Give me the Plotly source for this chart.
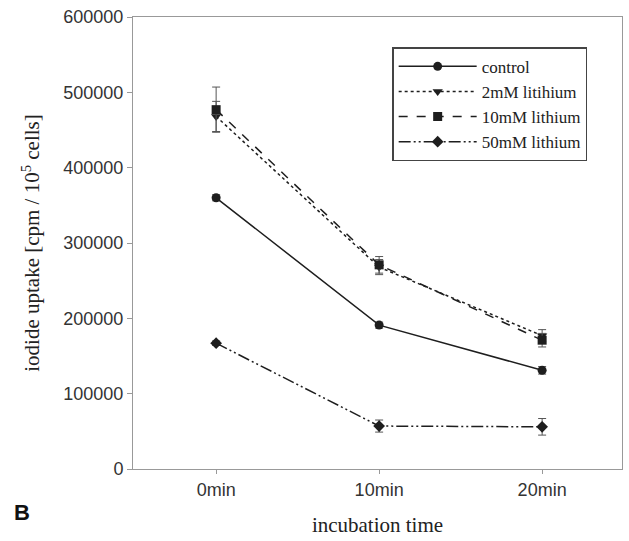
import plotly.graph_objects as go

times = ["0min", "10min", "20min"]
x_idx = [0, 1, 2]

series_names = ["control", "2mM litihium", "10mM lithium", "50mM lithium"]
control = [360000, 191000, 131000]
control_err = [4000, 4000, 5000]
li2 = [468000, 268000, 177000]
li2_err = [20000, 10000, 8000]
li10 = [477000, 271000, 171000]
li10_err = [30000, 11000, 9000]
li50 = [167000, 57000, 56000]
li50_err = [3000, 8000, 11000]

y_ticks = [0, 100000, 200000, 300000, 400000, 500000, 600000]

ink = "#1e1e1e"
styles = [
    (control, control_err, "solid", "circle"),
    (li2, li2_err, "dot", "triangle-down"),
    (li10, li10_err, "dash", "square"),
    (li50, li50_err, "12px,3px,2px,3px,2px,3px", "diamond"),
]

fig = go.Figure()
for name, (vals, errs, dash, sym) in zip(series_names, styles):
    fig.add_trace(go.Scatter(
        x=x_idx, y=vals, name=name, mode="lines+markers",
        line=dict(color=ink, width=1.5, dash=dash),
        marker=dict(symbol=sym, size=9, color=ink),
        error_y=dict(type="data", array=errs, visible=True,
                     color="#555555", thickness=1, width=4),
    ))

fig.update_layout(
    width=629, height=541,
    margin=dict(l=133, r=7, t=17, b=72),
    paper_bgcolor="white", plot_bgcolor="white",
    showlegend=True,
    legend=dict(
        x=0.53, y=0.933, xanchor="left", yanchor="top",
        bordercolor="#444444", borderwidth=1.5, bgcolor="white",
        font=dict(family="Liberation Serif", size=17, color="#222222"),
        itemwidth=78, tracegroupgap=0,
    ),
    annotations=[dict(
        text="<b>B</b>", x=(12 - 133) / 489, y=(469 - 512) / 452,
        xref="paper", yref="paper", xanchor="left", yanchor="middle",
        showarrow=False, font=dict(family="Liberation Sans", size=22, color="#111111"),
    )],
)

fig.update_xaxes(
    range=[-0.51, 2.49], tickvals=x_idx, ticktext=times,
    showline=True, linecolor="#999999", linewidth=1, mirror=True,
    ticks="outside", ticklen=4, tickcolor="#999999",
    showgrid=False, zeroline=False,
    tickfont=dict(family="Liberation Sans", size=18, color="#333333"),
    title=dict(text="incubation time", standoff=18,
               font=dict(family="Liberation Serif", size=21, color="#222222")),
)
fig.update_yaxes(
    range=[0, 600000], tickvals=y_ticks, ticktext=[str(v) for v in y_ticks],
    showline=True, linecolor="#999999", linewidth=1, mirror=True,
    ticks="outside", ticklen=5, tickcolor="#999999",
    showgrid=False, zeroline=False,
    tickfont=dict(family="Liberation Sans", size=18, color="#333333"),
    title=dict(text="iodide uptake [cpm / 10<sup>5</sup> cells]", standoff=17,
               font=dict(family="Liberation Serif", size=21, color="#222222")),
)

fig.write_html("out.html")
